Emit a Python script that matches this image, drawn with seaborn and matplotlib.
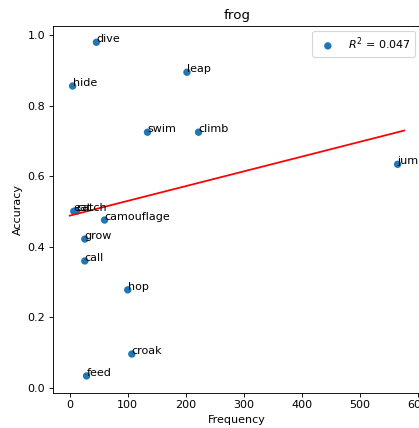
import numpy as np
import pandas as pd
import matplotlib
matplotlib.use("Agg")
import matplotlib.pyplot as plt
import seaborn as sns

# Verbs associated with frogs: how often each word appears and how accurately it is recognised
words = ["dive", "leap", "hide", "swim", "climb", "jump", "eat", "catch",
         "camouflage", "grow", "call", "hop", "croak", "feed"]
frequency = [46, 202, 5, 134, 222, 565, 7, 12, 60, 26, 26, 100, 107, 29]
accuracy = [0.980, 0.895, 0.856, 0.725, 0.725, 0.634, 0.501, 0.501,
            0.476, 0.422, 0.360, 0.278, 0.096, 0.034]

df = pd.DataFrame({"word": words, "Frequency": frequency, "Accuracy": accuracy})

# Least-squares fit and coefficient of determination
slope, intercept = np.polyfit(df["Frequency"], df["Accuracy"], 1)
pred = slope * df["Frequency"] + intercept
ss_res = ((df["Accuracy"] - pred) ** 2).sum()
ss_tot = ((df["Accuracy"] - df["Accuracy"].mean()) ** 2).sum()
r2 = 1 - ss_res / ss_tot

DPI = 80
fig = plt.figure(figsize=(419 / DPI, 428 / DPI), dpi=DPI)
ax = fig.add_axes([0.1265, 0.0827, 0.878, 0.8575])

sns.scatterplot(data=df, x="Frequency", y="Accuracy", ax=ax,
                color="#1f77b4", s=44, edgecolor="none",
                label=f"$R^2$ = {r2:.3f}")

x_fit = np.array([0, df["Frequency"].max() * 1.02])
ax.plot(x_fit, slope * x_fit + intercept, color="red", linewidth=1.6)

for _, row in df.iterrows():
    ax.text(row["Frequency"], row["Accuracy"], row["word"], fontsize=10)

ax.set_title("frog")
ax.legend(loc="upper right")

fig.savefig("out.png", dpi=DPI)
